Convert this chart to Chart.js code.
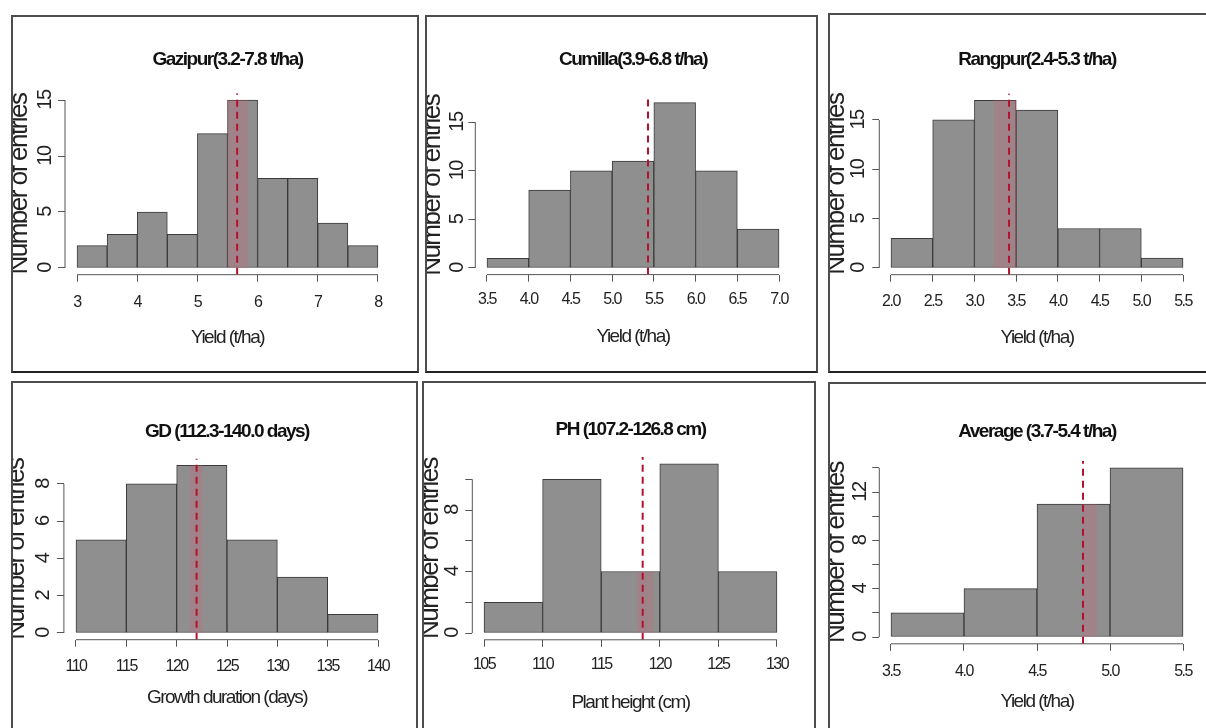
<!DOCTYPE html>
<html>
<head>
<meta charset="utf-8">
<title>Yield, growth duration and plant height distributions</title>
<script src="https://cdn.jsdelivr.net/npm/chart.js@4.4.1/dist/chart.umd.min.js"></script>
<style>
  html, body { margin: 0; padding: 0; background: #ffffff; }
  body { width: 1206px; height: 728px; position: relative; overflow: hidden; }
  canvas { position: absolute; }
  .frame { position: absolute; box-sizing: border-box; border: 2px solid #4d4d4d; pointer-events: none; }
  .frame.dark { border-bottom-color: #222222; }
</style>
</head>
<body>
<script>
// ---------- data ----------
// Gazipur yield
const gazipurBreaks  = [3, 3.5, 4, 4.5, 5, 5.5, 6, 6.5, 7, 7.5, 8];
const gazipurCounts  = [2, 3, 5, 3, 12, 15, 8, 8, 4, 2];
const gazipurMean    = 5.66;
const gazipurBand    = [5.5, 5.85];
const gazipurXTicks  = [3, 4, 5, 6, 7, 8];
const gazipurXLabels = ['3', '4', '5', '6', '7', '8'];
const gazipurYTicks  = [0, 5, 10, 15];
const gazipurYLabels = ['0', '5', '10', '15'];

// Cumilla yield
const cumillaBreaks  = [3.5, 4, 4.5, 5, 5.5, 6, 6.5, 7];
const cumillaCounts  = [1, 8, 10, 11, 17, 10, 4];
const cumillaMean    = 5.43;
const cumillaBand    = null;
const cumillaXTicks  = [3.5, 4, 4.5, 5, 5.5, 6, 6.5, 7];
const cumillaXLabels = ['3.5', '4.0', '4.5', '5.0', '5.5', '6.0', '6.5', '7.0'];
const cumillaYTicks  = [0, 5, 10, 15];
const cumillaYLabels = ['0', '5', '10', '15'];

// Rangpur yield
const rangpurBreaks  = [2, 2.5, 3, 3.5, 4, 4.5, 5, 5.5];
const rangpurCounts  = [3, 15, 17, 16, 4, 4, 1];
const rangpurMean    = 3.415;
const rangpurBand    = [3.23, 3.51];
const rangpurXTicks  = [2, 2.5, 3, 3.5, 4, 4.5, 5, 5.5];
const rangpurXLabels = ['2.0', '2.5', '3.0', '3.5', '4.0', '4.5', '5.0', '5.5'];
const rangpurYTicks  = [0, 5, 10, 15];
const rangpurYLabels = ['0', '5', '10', '15'];

// Growth duration
const gdBreaks  = [110, 115, 120, 125, 130, 135, 140];
const gdCounts  = [5, 8, 9, 5, 3, 1];
const gdMean    = 121.98;
const gdBand    = [121.3, 122.6];
const gdXTicks  = [110, 115, 120, 125, 130, 135, 140];
const gdXLabels = ['110', '115', '120', '125', '130', '135', '140'];
const gdYTicks  = [0, 2, 4, 6, 8];
const gdYLabels = ['0', '2', '4', '6', '8'];

// Plant height
const phBreaks  = [105, 110, 115, 120, 125, 130];
const phCounts  = [2, 10, 4, 11, 4];
const phMean    = 118.54;
const phBand    = [118.05, 119.45];
const phXTicks  = [105, 110, 115, 120, 125, 130];
const phXLabels = ['105', '110', '115', '120', '125', '130'];
const phYTicks  = [0, 2, 4, 6, 8, 10];
const phYLabels = ['0', '', '4', '', '8', ''];

// Average yield
const avgBreaks  = [3.5, 4, 4.5, 5, 5.5];
const avgCounts  = [2, 4, 11, 14];
const avgMean    = 4.815;
const avgBand    = [4.81, 4.91];
const avgXTicks  = [3.5, 4, 4.5, 5, 5.5];
const avgXLabels = ['3.5', '4.0', '4.5', '5.0', '5.5'];
const avgYTicks  = [0, 2, 4, 6, 8, 10, 12, 14];
const avgYLabels = ['0', '', '4', '', '8', '', '12', ''];

const yAxisTitle = 'Number of entries';

// ---------- styling ----------
const FONT = "'Liberation Sans', Arial, sans-serif";
const LETTER_SPACING = '-1.5px';   // tight, condensed-looking lettering
const TICK_LEN = 7;
const BAR_FILL = '#8f8f8f';
const BAR_EDGE = '#3a3a3a';
const MEAN_COLOR = '#b3122e';
const BAND_COLOR = 'rgba(225, 90, 115, 0.22)';

Chart.defaults.font.family = FONT;
Chart.defaults.color = '#222';

// Panels: frame = outer border box [left, top, width, height];
// area = plot region [left, top, right, bottom]; text = label anchor lines.
const panels = [
  { frame: [11, 15, 408, 358], dark: true, area: [65, 93.3, 390, 274.7],
    text: { title: 60, xTick: 303, xTitle: 338, yTick: 45, yTitle: 20 },
    title: 'Gazipur(3.2-7.8 t/ha)', xTitle: 'Yield (t/ha)',
    breaks: gazipurBreaks, counts: gazipurCounts, mean: gazipurMean, band: gazipurBand,
    xTicks: gazipurXTicks, xLabels: gazipurXLabels, yTicks: gazipurYTicks, yLabels: gazipurYLabels },
  { frame: [425, 15, 393, 358], dark: true, area: [475.3, 96, 790.7, 274.6],
    text: { title: 60, xTick: 300, xTitle: 337, yTick: 457, yTitle: 433 },
    title: 'Cumilla(3.9-6.8 t/ha)', xTitle: 'Yield (t/ha)',
    breaks: cumillaBreaks, counts: cumillaCounts, mean: cumillaMean, band: cumillaBand,
    xTicks: cumillaXTicks, xLabels: cumillaXLabels, yTicks: cumillaYTicks, yLabels: cumillaYLabels },
  { frame: [828, 13, 400, 360], dark: true, area: [879.3, 93.5, 1194.7, 274.7],
    text: { title: 60, xTick: 302, xTitle: 338, yTick: 858, yTitle: 837 },
    title: 'Rangpur(2.4-5.3 t/ha)', xTitle: 'Yield (t/ha)',
    breaks: rangpurBreaks, counts: rangpurCounts, mean: rangpurMean, band: rangpurBand,
    xTicks: rangpurXTicks, xLabels: rangpurXLabels, yTicks: rangpurYTicks, yLabels: rangpurYLabels },
  { frame: [11, 381, 407, 400], dark: false, area: [63.9, 458.6, 390.1, 639.7],
    text: { title: 432, xTick: 667, xTitle: 698, yTick: 43, yTitle: 17 },
    title: 'GD (112.3-140.0 days)', xTitle: 'Growth duration (days)',
    breaks: gdBreaks, counts: gdCounts, mean: gdMean, band: gdBand,
    xTicks: gdXTicks, xLabels: gdXLabels, yTicks: gdYTicks, yLabels: gdYLabels },
  { frame: [422, 381, 394, 400], dark: false, area: [472.3, 457.1, 788.7, 639.8],
    text: { title: 430, xTick: 665, xTitle: 703, yTick: 452, yTitle: 431 },
    title: 'PH (107.2-126.8 cm)', xTitle: 'Plant height (cm)',
    breaks: phBreaks, counts: phCounts, mean: phMean, band: phBand,
    xTicks: phXTicks, xLabels: phXLabels, yTicks: phYTicks, yLabels: phYLabels },
  { frame: [828, 382, 400, 400], dark: false, area: [879.3, 461.1, 1194.7, 643.8],
    text: { title: 432, xTick: 672, xTitle: 702, yTick: 860, yTitle: 837 },
    title: 'Average (3.7-5.4 t/ha)', xTitle: 'Yield (t/ha)',
    breaks: avgBreaks, counts: avgCounts, mean: avgMean, band: avgBand,
    xTicks: avgXTicks, xLabels: avgXLabels, yTicks: avgYTicks, yLabels: avgYLabels }
];

// Tight letter spacing for every piece of text on the canvas.
const tightText = {
  id: 'tightText',
  beforeUpdate(chart) { chart.ctx.letterSpacing = LETTER_SPACING; },
  beforeDraw(chart) { chart.ctx.letterSpacing = LETTER_SPACING; }
};

// Axis lines drawn base-graphics style: only from the first to the last tick.
const baseAxisLines = {
  id: 'baseAxisLines',
  afterDraw(chart) {
    const { ctx, chartArea, scales } = chart;
    const x = scales.x, y = scales.y;
    const xt = x.ticks, yt = y.ticks;
    ctx.save();
    ctx.strokeStyle = '#555';
    ctx.lineWidth = 1;
    ctx.beginPath();
    ctx.moveTo(x.getPixelForValue(xt[0].value), chartArea.bottom);
    ctx.lineTo(x.getPixelForValue(xt[xt.length - 1].value), chartArea.bottom);
    ctx.moveTo(chartArea.left, y.getPixelForValue(yt[0].value));
    ctx.lineTo(chartArea.left, y.getPixelForValue(yt[yt.length - 1].value));
    ctx.stroke();
    ctx.restore();
  }
};

const measureCtx = document.createElement('canvas').getContext('2d');
function textWidth(text, font) {
  measureCtx.font = font;
  measureCtx.letterSpacing = LETTER_SPACING;
  return measureCtx.measureText(text).width;
}

function buildPanel(p) {
  const cx = p.frame[0] + 2, cy = p.frame[1] + 2;
  const W = Math.min(p.frame[2] - 4, 1206 - cx);
  const H = Math.min(p.frame[3] - 4, 728 - cy);

  const canvas = document.createElement('canvas');
  canvas.width = W; canvas.height = H;
  canvas.style.left = cx + 'px'; canvas.style.top = cy + 'px';
  document.body.appendChild(canvas);

  const frame = document.createElement('div');
  frame.className = 'frame' + (p.dark ? ' dark' : '');
  frame.style.left = p.frame[0] + 'px'; frame.style.top = p.frame[1] + 'px';
  frame.style.width = p.frame[2] + 'px'; frame.style.height = p.frame[3] + 'px';
  document.body.appendChild(frame);

  const L = p.area[0] - cx, T = p.area[1] - cy, R = p.area[2] - cx, B = p.area[3] - cy;

  // plot limits: bin range and 0..max count, each widened by 4%
  const x0 = p.breaks[0], x1 = p.breaks[p.breaks.length - 1];
  const ymax = Math.max(...p.counts);
  const xPad = (x1 - x0) * 0.04, yPad = ymax * 0.04;
  const xMin = x0 - xPad, xMax = x1 + xPad, yMin = -yPad, yMax = ymax + yPad;

  const bars = p.counts.map((c, i) => ({ x: (p.breaks[i] + p.breaks[i + 1]) / 2, y: c }));

  const datasets = [
    { type: 'line', order: 0, data: [{ x: p.mean, y: yMin }, { x: p.mean, y: yMax }],
      borderColor: MEAN_COLOR, borderWidth: 2, borderDash: [7, 5], pointRadius: 0, fill: false }
  ];
  if (p.band) {
    let k = 0;
    while (k < p.counts.length - 1 && p.mean >= p.breaks[k + 1]) k++;
    const top = p.counts[k];
    datasets.push({ type: 'line', order: 1,
      data: [{ x: p.band[0], y: 0 }, { x: p.band[0], y: top }, { x: p.band[1], y: top }, { x: p.band[1], y: 0 }],
      borderWidth: 0, pointRadius: 0, fill: 'origin', backgroundColor: BAND_COLOR });
  }
  datasets.push({ type: 'bar', order: 2, data: bars,
    backgroundColor: BAR_FILL, borderColor: BAR_EDGE, borderWidth: 1, borderSkipped: false,
    barPercentage: 1, categoryPercentage: 1 });

  const Y_TICK_SIZE = 20, Y_TITLE_SIZE = 26, TITLE_SIZE = 19, X_TICK_SIZE = 16, X_TITLE_SIZE = 19;
  const widest = Math.max(...p.yLabels.map(s => textWidth(s, Y_TICK_SIZE + 'px ' + FONT)));
  const yTickCenter = p.text.yTick - cx;

  const titleLH = TITLE_SIZE * 1.2;
  const titleCenter = p.text.title - cy;

  new Chart(canvas, {
    type: 'bar',
    data: { datasets },
    plugins: [tightText, baseAxisLines],
    options: {
      responsive: false,
      animation: false,
      events: [],
      layout: { padding: { left: 0, top: 0, bottom: 0, right: W - R } },
      plugins: {
        legend: { display: false },
        tooltip: { enabled: false },
        title: {
          display: true, text: p.title, fullSize: false, color: '#111',
          font: { family: FONT, size: TITLE_SIZE, weight: 'bold', lineHeight: 1.2 },
          padding: { top: titleCenter - titleLH / 2, bottom: T - titleCenter - titleLH / 2 }
        }
      },
      scales: {
        x: {
          type: 'linear', min: xMin, max: xMax, offset: false,
          afterBuildTicks: s => { s.ticks = p.xTicks.map(v => ({ value: v })); },
          afterFit: s => { s.height = H - B; },
          ticks: {
            autoSkip: false, maxRotation: 0, minRotation: 0, color: '#222',
            font: { family: FONT, size: X_TICK_SIZE, lineHeight: 1.2 },
            padding: (p.text.xTick - cy) - B - TICK_LEN - X_TICK_SIZE * 0.6,
            callback: (v, i) => p.xLabels[i]
          },
          grid: { display: true, drawOnChartArea: false, drawTicks: true, tickLength: TICK_LEN,
                  color: '#555', lineWidth: 1, offset: false },
          border: { display: false },
          title: {
            display: true, text: p.xTitle, color: '#222',
            font: { family: FONT, size: X_TITLE_SIZE, lineHeight: 1.2 },
            padding: { top: 0, bottom: H - (p.text.xTitle - cy) - X_TITLE_SIZE * 0.6 }
          }
        },
        y: {
          type: 'linear', min: yMin, max: yMax,
          afterBuildTicks: s => { s.ticks = p.yTicks.map(v => ({ value: v })); },
          afterFit: s => { s.width = L; },
          ticks: {
            autoSkip: false, minRotation: 90, maxRotation: 90, crossAlign: 'center', color: '#222',
            font: { family: FONT, size: Y_TICK_SIZE },
            padding: L - TICK_LEN - yTickCenter - widest / 2,
            callback: (v, i) => p.yLabels[i]
          },
          grid: { display: true, drawOnChartArea: false, drawTicks: true, tickLength: TICK_LEN,
                  color: '#555', lineWidth: 1 },
          border: { display: false },
          title: {
            display: true, text: yAxisTitle, color: '#222',
            font: { family: FONT, size: Y_TITLE_SIZE, lineHeight: 1 },
            padding: { top: (p.text.yTitle - cx) - Y_TITLE_SIZE / 2, bottom: 0 }
          }
        }
      }
    }
  });
}

panels.forEach(buildPanel);
</script>
</body>
</html>
